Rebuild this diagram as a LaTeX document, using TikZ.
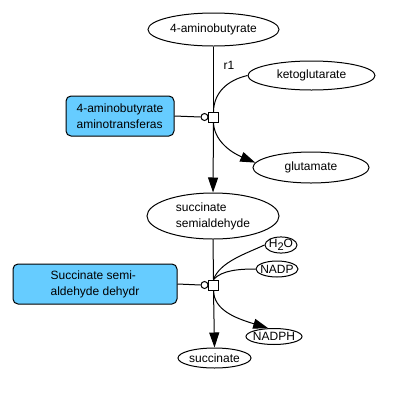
\documentclass[tikz,border=0pt]{standalone}
\usepackage{fontspec}
\setmainfont{Liberation Sans}
\usetikzlibrary{arrows.meta,shapes.geometric}
\definecolor{enzblue}{RGB}{102,204,255}
\newcommand{\zc}[1]{\makebox[0pt]{#1}}
\begin{document}
\begin{tikzpicture}[x=1pt,y=-1pt,
  every node/.style={font=\fontsize{12}{16}\selectfont, inner sep=0pt},
  spec/.style={ellipse, draw, line width=1pt, fill=white},
  enz/.style={draw, rounded corners=5pt, fill=enzblue, line width=1pt, align=left},
  rxn/.style={draw, line width=1pt, minimum size=10pt, fill=white},
  modc/.style={circle, draw, line width=1pt, minimum size=7pt, fill=white},
  flow/.style={line width=1pt},
  tip/.style={-{Triangle[length=15pt,width=10pt]}}]
\useasboundingbox (0,0) rectangle (400,400);
% species
\node[spec, minimum width=131pt, minimum height=33pt] (gaba) at (213.5,29.5) {4-aminobutyrate};
\node[spec, minimum width=127pt, minimum height=29pt] (keto) at (311.5,75.5) {ketoglutarate};
\node[spec, minimum width=116pt, minimum height=31pt] (glu) at (311,167.5) {glutamate};
\node[spec, minimum width=132pt, minimum height=46pt] (ssa) at (213,216)
  {\zc{\begin{tabular}{@{}l@{}}succinate\\semialdehyde\end{tabular}}};
\node[spec, minimum width=32pt, minimum height=16pt] (h2o) at (281,245)
  {\zc{H\raisebox{-3pt}{\fontsize{11}{11}\selectfont 2}O}};
\node[spec, minimum width=42pt, minimum height=16pt] (nadp) at (277,269) {\zc{NADP}};
\node[spec, minimum width=56pt, minimum height=16pt] (nadph) at (274,336.5) {\zc{NADPH}};
\node[spec, minimum width=73pt, minimum height=20pt] (succ) at (214.5,358) {\zc{succinate}};
% enzymes
\node[enz, minimum width=108pt, minimum height=40pt] (e1) at (120,116) {4-aminobutyrate\\aminotransferas};
\node[enz, minimum width=164pt, minimum height=40pt] (e2) at (95,284) {Succinate semi-\\aldehyde dehydr};
% reactions
\node[rxn] (r1) at (213.5,117) {};
\node[modc] (c1) at (204.5,117) {};
\node (r1lab) at (229,65) {r1};
\node[rxn] (r2) at (213.5,285) {};
\node[modc] (c2) at (204.5,285) {};
% connectors reaction 1
\draw[flow] (gaba.south) -- (r1.north);
\draw[flow,tip] (r1.south) -- (ssa.north);
\draw[flow] (e1.east) -- (c1.west);
\draw[flow] (r1.north) .. controls (214,92) and (228,80) .. (keto.west);
\draw[flow,tip] (r1.south) .. controls (214,140) and (230,152) .. (glu.175);
% connectors reaction 2
\draw[flow] (ssa.south) -- (r2.north);
\draw[flow,tip] (r2.south) -- (succ.north);
\draw[flow] (e2.east) -- (c2.west);
\draw[flow] (r2.north) .. controls (220,262) and (245,254) .. (h2o.west);
\draw[flow] (r2.north) .. controls (222,270) and (240,269) .. (nadp.west);
\draw[flow,tip] (r2.south) .. controls (214,310) and (235,318) .. (nadph.125);
\end{tikzpicture}
\end{document}
